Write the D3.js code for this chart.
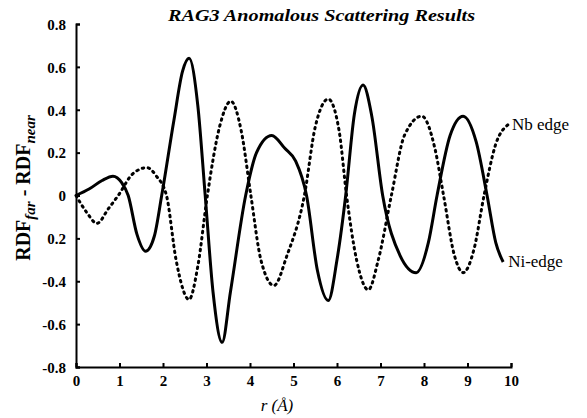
<!DOCTYPE html>
<html>
<head>
<meta charset="utf-8">
<script src="https://cdn.jsdelivr.net/npm/d3@7"></script>
<style>
  body { margin: 0; background: #fff; }
  svg { display: block; }
</style>
</head>
<body>
<svg id="chart" width="587" height="418"></svg>
<script>
// Ni-edge (solid) RDF difference
const niR = [0, 0.3, 0.6, 0.85, 1.05, 1.2, 1.4, 1.6, 1.8, 1.97, 2.25, 2.45, 2.6, 2.8, 2.97, 3.15, 3.36, 3.55,
  3.9, 4.15, 4.5, 4.8, 5.05, 5.3, 5.55, 5.8, 6.0, 6.2, 6.4, 6.6, 6.8, 7.05, 7.45, 7.82, 8.1, 8.3, 8.6, 8.9,
  9.2, 9.45, 9.65, 9.82];
const niVal = [0, 0.03, 0.07, 0.09, 0.06, 0.0, -0.18, -0.26, -0.19, 0.0, 0.35, 0.58, 0.64, 0.42, 0.0, -0.45,
  -0.685, -0.45, 0.0, 0.2, 0.28, 0.22, 0.16, 0.0, -0.35, -0.49, -0.3, 0.0, 0.38, 0.515, 0.37, 0.0, -0.28,
  -0.36, -0.22, 0.0, 0.28, 0.37, 0.25, 0.0, -0.22, -0.31];

// Nb edge (dotted) RDF difference
const nbR = [0, 0.25, 0.48, 0.75, 0.97, 1.3, 1.63, 1.85, 2.08, 2.3, 2.6, 2.8, 3.02, 3.3, 3.56, 3.8, 4.02, 4.25,
  4.55, 4.85, 5.25, 5.5, 5.8, 6.05, 6.22, 6.45, 6.72, 6.95, 7.25, 7.55, 7.95, 8.25, 8.45, 8.7, 8.9, 9.15,
  9.38, 9.65, 9.93];
const nbVal = [0, -0.08, -0.13, -0.06, 0.0, 0.1, 0.13, 0.09, 0.0, -0.3, -0.485, -0.33, 0.0, 0.32, 0.44, 0.3,
  0.0, -0.3, -0.42, -0.28, 0.0, 0.32, 0.45, 0.3, 0.0, -0.3, -0.44, -0.3, 0.0, 0.28, 0.37, 0.22, 0.0, -0.28,
  -0.36, -0.25, 0.0, 0.24, 0.33];

const xTicks = [0, 1, 2, 3, 4, 5, 6, 7, 8, 9, 10];
const yTicks = [0.8, 0.6, 0.4, 0.2, 0, -0.2, -0.4, -0.6, -0.8];
const yTickLabels = ["0.8", "0.6", "0.4", "0.2", "0", "0.2", "-0.4", "-0.6", "-0.8"];

const serif = '"Liberation Serif", "DejaVu Serif", serif';
const margin = { top: 24, right: 76, bottom: 51, left: 76 };
const svg = d3.select('#chart').style('font-family', serif);
const width = 587 - margin.left - margin.right;
const height = 418 - margin.top - margin.bottom;

const x = d3.scaleLinear().domain([0, 10]).range([0, width]);
const y = d3.scaleLinear().domain([-0.8, 0.8]).range([height, 0]);

const g = svg.append('g')
  .attr('transform', `translate(${margin.left}, ${margin.top})`);

// axes
const xAxis = g.append('g')
  .attr('transform', `translate(0, ${height})`)
  .call(d3.axisBottom(x).tickValues(xTicks).tickSize(-4).tickPadding(8).tickFormat(d3.format('d')));
const yAxis = g.append('g')
  .call(d3.axisLeft(y).tickValues(yTicks).tickSize(-4).tickPadding(10)
    .tickFormat((d, i) => yTickLabels[i]));

[xAxis, yAxis].forEach(a => {
  a.select('.domain').attr('stroke-width', 2);
  a.selectAll('.tick line').attr('stroke-width', 2);
  a.selectAll('.tick text')
    .style('font-family', serif)
    .style('font-size', '15px')
    .style('font-weight', 'bold');
});
yAxis.selectAll('.tick text').attr('dy', '0.35em');

const line = d3.line()
  .x(d => x(d[0]))
  .y(d => y(d[1]))
  .curve(d3.curveMonotoneX);

// Nb edge, dotted
g.append('path')
  .datum(nbR.map((r, i) => [r, nbVal[i]]))
  .attr('fill', 'none')
  .attr('stroke', '#000')
  .attr('stroke-width', 3)
  .attr('stroke-linecap', 'round')
  .attr('stroke-dasharray', '1.5,4.5')
  .attr('d', line);

// Ni-edge, solid
g.append('path')
  .datum(niR.map((r, i) => [r, niVal[i]]))
  .attr('fill', 'none')
  .attr('stroke', '#000')
  .attr('stroke-width', 3)
  .attr('d', line);

// series labels
g.append('text')
  .attr('x', x(nbR[nbR.length - 1]) + 4)
  .attr('y', y(nbVal[nbVal.length - 1]) + 5)
  .style('font-size', '17px')
  .text('Nb edge');
g.append('text')
  .attr('x', x(niR[niR.length - 1]) + 5)
  .attr('y', y(niVal[niVal.length - 1]) + 5)
  .style('font-size', '17px')
  .text('Ni-edge');

// title
svg.append('text')
  .attr('x', 168)
  .attr('y', 21)
  .style('font-size', '17px')
  .style('font-weight', 'bold')
  .style('font-style', 'italic')
  .attr('textLength', 307)
  .attr('lengthAdjust', 'spacingAndGlyphs')
  .text('RAG3 Anomalous Scattering Results');

// x label
svg.append('text')
  .attr('x', 277)
  .attr('y', 411)
  .attr('text-anchor', 'middle')
  .style('font-size', '17px')
  .style('font-style', 'italic')
  .text('r (Å)');

// y label
const yl = svg.append('text')
  .attr('transform', 'translate(30, 188) rotate(-90)')
  .attr('text-anchor', 'middle')
  .style('font-size', '20px')
  .style('font-weight', 'bold');
yl.append('tspan').text('RDF');
yl.append('tspan').style('font-size', '15px').style('font-style', 'italic').attr('dy', 5).text('far');
yl.append('tspan').attr('dy', -5).text(' -  RDF');
yl.append('tspan').style('font-size', '15px').style('font-style', 'italic').attr('dy', 5).text('near');
</script>
</body>
</html>
